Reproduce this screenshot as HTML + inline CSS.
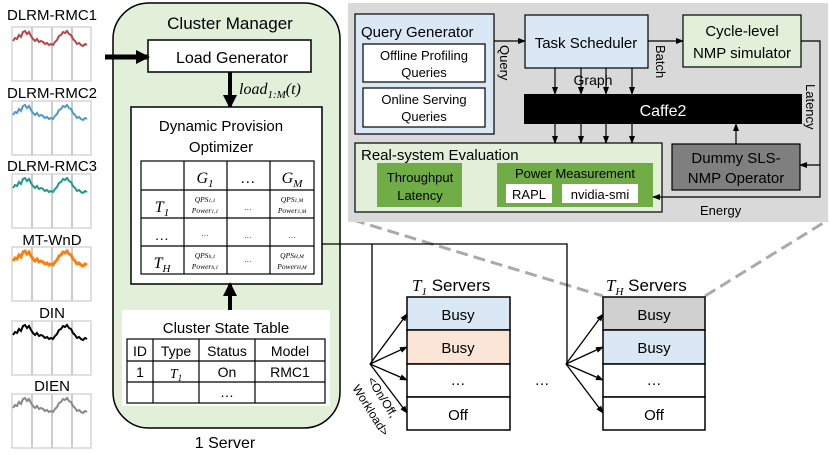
<!DOCTYPE html>
<html><head><meta charset="utf-8"><style>
html,body{margin:0;padding:0;background:#fff}
svg{display:block;font-family:"Liberation Sans",sans-serif}
.s{font-family:"Liberation Serif",serif;font-style:italic}
</style></head><body>
<svg width="830" height="455" viewBox="0 0 830 455" xmlns="http://www.w3.org/2000/svg">
<defs>
<marker id="a" markerWidth="8" markerHeight="8" refX="7" refY="4" orient="auto" markerUnits="userSpaceOnUse"><path d="M0,1 L8,4 L0,7 Z" fill="#000"/></marker>
<marker id="b" markerWidth="14" markerHeight="14" refX="12" refY="7" orient="auto" markerUnits="userSpaceOnUse"><path d="M0,0 L14,7 L0,14 Z" fill="#000"/></marker>
<g id="grid"><rect x="12" y="0" width="79" height="54" fill="#fff" stroke="#ccc" stroke-width="1.2"/><path d="M32 0V54M52 0V54M72 0V54" stroke="#ccc"/></g>
<path id="w" d="M13 14 l2 -3 2 1 2 -4 2 2 2 -5 2 -1 2 3 2 -2 2 4 2 3 2 2 2 -2 2 3 2 -1 2 1 2 2 2 -1 2 2 2 -1 2 1 2 -3 2 -2 2 -4 2 -1 2 -3 2 1 2 -2 2 3 2 1 2 4 2 2 2 3 2 -1 2 2 2 1 2 -2 2 1"/>
</defs>
<g font-size="15" text-anchor="middle">
<text x="52" y="20">DLRM-RMC1</text>
<text x="52" y="98">DLRM-RMC2</text>
<text x="52" y="171">DLRM-RMC3</text>
<text x="52" y="245">MT-WnD</text>
<text x="52" y="318">DIN</text>
<text x="52" y="391">DIEN</text>
</g>
<g fill="none" stroke-width="2">
<g transform="translate(0,27)"><use href="#grid"/><use href="#w" stroke="#b5474b"/></g>
<g transform="translate(0,101)"><use href="#grid"/><use href="#w" stroke="#4a9ad1"/></g>
<g transform="translate(0,174)"><use href="#grid"/><use href="#w" stroke="#1f9a8a"/></g>
<g transform="translate(0,247)"><use href="#grid"/><use href="#w" stroke="#ff7f0e" stroke-width="3"/></g>
<g transform="translate(0,321)"><use href="#grid"/><use href="#w" stroke="#000"/></g>
<g transform="translate(0,394)"><use href="#grid"/><use href="#w" stroke="#888"/></g>
</g>
<rect x="113" y="3" width="227" height="425" rx="36" fill="#e2efd9" stroke="#000" stroke-width="1.5"/>
<text x="230" y="29" font-size="17" text-anchor="middle">Cluster Manager</text>
<rect x="148" y="40" width="163" height="32" fill="#fff" stroke="#000" stroke-width="1.5"/>
<text x="232" y="63" font-size="16" text-anchor="middle">Load Generator</text>
<line x1="105" y1="57" x2="148" y2="57" stroke="#000" stroke-width="5" marker-end="url(#b)"/>
<line x1="230" y1="72" x2="230" y2="107" stroke="#000" stroke-width="4" marker-end="url(#b)"/>
<text x="239" y="94" font-size="16" class="s">load<tspan font-size="11" dy="4">1:M</tspan><tspan dy="-4">(t)</tspan></text>
<rect x="131" y="107" width="191" height="177" fill="#fff" stroke="#000" stroke-width="1.5"/>
<text x="221" y="131" font-size="15" text-anchor="middle">Dynamic Provision</text>
<text x="221" y="152" font-size="15" text-anchor="middle">Optimizer</text>
<g stroke="#000" stroke-width="1.2" fill="none">
<rect x="141" y="161" width="173" height="113"/>
<path d="M141 190H314M141 218H314M141 246H314M184 161V274M227 161V274M270 161V274"/>
</g>
<g class="s" text-anchor="middle">
<text x="205" y="183" font-size="16">G<tspan font-size="11" dy="4">1</tspan></text>
<text x="248" y="183" font-size="15">…</text>
<text x="292" y="183" font-size="16">G<tspan font-size="11" dy="4">M</tspan></text>
<text x="162" y="212" font-size="16">T<tspan font-size="11" dy="4">1</tspan></text>
<text x="162" y="240" font-size="14">…</text>
<text x="162" y="268" font-size="16">T<tspan font-size="11" dy="4">H</tspan></text>
<g font-size="7.5">
<text x="205" y="202">QPS<tspan font-size="5.5">1,1</tspan></text><text x="205" y="213">Power<tspan font-size="5.5">1,1</tspan></text>
<text x="292" y="202">QPS<tspan font-size="5.5">1,M</tspan></text><text x="292" y="213">Power<tspan font-size="5.5">1,M</tspan></text>
<text x="205" y="258">QPS<tspan font-size="5.5">h,1</tspan></text><text x="205" y="269">Power<tspan font-size="5.5">h,1</tspan></text>
<text x="292" y="258">QPS<tspan font-size="5.5">H,M</tspan></text><text x="292" y="269">Power<tspan font-size="5.5">H,M</tspan></text>
<text x="248" y="210">…</text><text x="205" y="236">…</text><text x="248" y="238">…</text><text x="292" y="238">…</text><text x="248" y="262">…</text>
</g>
</g>
<line x1="230" y1="310" x2="230" y2="284" stroke="#000" stroke-width="4" marker-end="url(#b)"/>
<rect x="122" y="310" width="208" height="96" fill="#fff"/>
<text x="226" y="333" font-size="15" text-anchor="middle">Cluster State Table</text>
<g stroke="#000" stroke-width="1.2" fill="none">
<rect x="127" y="339" width="198" height="64"/>
<path d="M127 361H325M127 382H325M153 339V403M199 339V403M255 339V403"/>
</g>
<g font-size="14" text-anchor="middle">
<text x="140" y="356">ID</text><text x="176" y="356">Type</text><text x="227" y="356">Status</text><text x="290" y="356">Model</text>
<text x="140" y="377">1</text><text x="176" y="378" class="s">T<tspan font-size="9" dy="3">1</tspan></text><text x="227" y="377">On</text><text x="290" y="377">RMC1</text>
<text x="227" y="397">…</text>
</g>
<text x="225" y="448" font-size="16" text-anchor="middle">1 Server</text>
<g stroke="#aaa" stroke-width="3" stroke-dasharray="12,6" fill="none">
<line x1="353" y1="220" x2="603" y2="296"/><line x1="705" y1="296" x2="828" y2="220"/>
</g>
<g stroke="#000" stroke-width="1.3" fill="none">
<path d="M322 244H567V364M372 244V364"/>
<line x1="370" y1="364" x2="407" y2="314" marker-end="url(#a)"/>
<line x1="370" y1="364" x2="407" y2="347" marker-end="url(#a)"/>
<line x1="370" y1="364" x2="407" y2="380" marker-end="url(#a)"/>
<line x1="370" y1="364" x2="407" y2="413" marker-end="url(#a)"/>
<line x1="566" y1="364" x2="603" y2="314" marker-end="url(#a)"/>
<line x1="566" y1="364" x2="603" y2="347" marker-end="url(#a)"/>
<line x1="566" y1="364" x2="603" y2="380" marker-end="url(#a)"/>
<line x1="566" y1="364" x2="603" y2="413" marker-end="url(#a)"/>
</g>
<text transform="translate(367,380) rotate(58)" font-size="12">&lt;On/Off,</text>
<text transform="translate(352,388) rotate(58)" font-size="12">Workload&gt;</text>
<g stroke="#000" stroke-width="1.5">
<rect x="407" y="297" width="103" height="33" fill="#dae8f5"/>
<rect x="407" y="330" width="103" height="34" fill="#fbe5d6"/>
<rect x="407" y="364" width="103" height="33" fill="#fff"/>
<rect x="407" y="397" width="103" height="33" fill="#fff"/>
<rect x="603" y="297" width="102" height="33" fill="#d0d0d0"/>
<rect x="603" y="330" width="102" height="34" fill="#dae8f5"/>
<rect x="603" y="364" width="102" height="33" fill="#fff"/>
<rect x="603" y="397" width="102" height="33" fill="#fff"/>
</g>
<g font-size="15" text-anchor="middle">
<text x="458" y="320">Busy</text><text x="458" y="353">Busy</text><text x="458" y="385">…</text><text x="458" y="420">Off</text>
<text x="654" y="320">Busy</text><text x="654" y="353">Busy</text><text x="654" y="385">…</text><text x="654" y="420">Off</text>
<text x="542" y="385">…</text>
</g>
<text x="412" y="291" font-size="17"><tspan class="s">T<tspan font-size="11" dy="4">1</tspan></tspan><tspan dy="-4"> Servers</tspan></text>
<text x="606" y="291" font-size="17"><tspan class="s">T<tspan font-size="11" dy="4">H</tspan></tspan><tspan dy="-4"> Servers</tspan></text>
<rect x="348" y="3" width="480" height="219" fill="#d9d9d9"/>
<rect x="355" y="14" width="139" height="120" fill="#dae8f5" stroke="#000" stroke-width="1.2"/>
<text x="361" y="37" font-size="15">Query Generator</text>
<rect x="363" y="44" width="122" height="38" fill="#fff" stroke="#000" stroke-width="1.2"/>
<rect x="363" y="88" width="122" height="39" fill="#fff" stroke="#000" stroke-width="1.2"/>
<g font-size="13" text-anchor="middle">
<text x="424" y="60">Offline Profiling</text><text x="424" y="77">Queries</text>
<text x="424" y="104">Online Serving</text><text x="424" y="121">Queries</text>
</g>
<rect x="525" y="15" width="123" height="53" fill="#dae8f5" stroke="#000" stroke-width="1.2"/>
<text x="586" y="48" font-size="15" text-anchor="middle">Task Scheduler</text>
<rect x="683" y="15" width="118" height="52" fill="#e2efd9" stroke="#000" stroke-width="1.2"/>
<text x="742" y="36" font-size="15" text-anchor="middle">Cycle-level</text>
<text x="742" y="58" font-size="15" text-anchor="middle">NMP simulator</text>
<rect x="524" y="94" width="278" height="30" fill="#000"/>
<text x="663" y="116" font-size="16" fill="#fff" text-anchor="middle">Caffe2</text>
<rect x="355" y="143" width="307" height="69" fill="#e2efd9" stroke="#000" stroke-width="1.2"/>
<text x="361" y="160" font-size="15">Real-system Evaluation</text>
<rect x="377" y="163" width="85" height="44" fill="#70ad47"/>
<text x="420" y="182" font-size="13" text-anchor="middle">Throughput</text>
<text x="420" y="200" font-size="13" text-anchor="middle">Latency</text>
<rect x="497" y="163" width="156" height="44" fill="#70ad47"/>
<text x="575" y="178" font-size="13" text-anchor="middle">Power Measurement</text>
<rect x="506" y="184" width="46" height="19" fill="#fff"/>
<rect x="562" y="184" width="76" height="19" fill="#fff"/>
<text x="529" y="199" font-size="13" text-anchor="middle">RAPL</text>
<text x="600" y="199" font-size="13" text-anchor="middle">nvidia-smi</text>
<rect x="672" y="144" width="128" height="46" fill="#7f7f7f" stroke="#000" stroke-width="1.2"/>
<text x="736" y="163" font-size="15" text-anchor="middle">Dummy SLS-</text>
<text x="736" y="183" font-size="15" text-anchor="middle">NMP Operator</text>
<g stroke="#000" stroke-width="1.2" fill="none">
<line x1="494" y1="41" x2="525" y2="41" marker-end="url(#a)"/>
<line x1="648" y1="41" x2="683" y2="41" marker-end="url(#a)"/>
<line x1="555" y1="68" x2="555" y2="94" marker-end="url(#a)"/>
<line x1="581" y1="68" x2="581" y2="94" marker-end="url(#a)"/>
<line x1="606" y1="68" x2="606" y2="94" marker-end="url(#a)"/>
<line x1="632" y1="68" x2="632" y2="94" marker-end="url(#a)"/>
<line x1="555" y1="124" x2="555" y2="143" marker-end="url(#a)"/>
<line x1="581" y1="124" x2="581" y2="143" marker-end="url(#a)"/>
<line x1="606" y1="124" x2="606" y2="143" marker-end="url(#a)"/>
<line x1="632" y1="124" x2="632" y2="143" marker-end="url(#a)"/>
<line x1="736" y1="144" x2="736" y2="124" marker-end="url(#a)"/>
<path d="M801 41H820V197H653" marker-end="url(#a)"/>
<line x1="820" y1="165" x2="800" y2="165" marker-end="url(#a)"/>
</g>
<text x="593" y="85" font-size="14" text-anchor="middle">Graph</text>
<text x="700" y="215" font-size="13">Energy</text>
<text transform="translate(500,45) rotate(90)" font-size="13">Query</text>
<text transform="translate(656,45) rotate(90)" font-size="13">Batch</text>
<text transform="translate(806,84) rotate(90)" font-size="13">Latency</text>
</svg>
</body></html>
